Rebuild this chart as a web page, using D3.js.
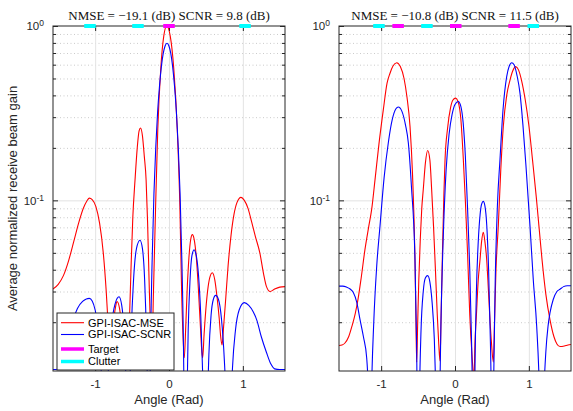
<!DOCTYPE html>
<html>
<head>
<meta charset="utf-8">
<script src="https://cdn.jsdelivr.net/npm/d3@7"></script>
<style>
  body { margin: 0; background: #fff; }
  svg { display: block; }
</style>
</head>
<body>
<svg id="chart" width="573" height="411"></svg>
<script>
// ---- tick values and labels ----
const angleTicks = [-1, 0, 1];
const gainMajorTicks = [0.1, 1];
const gainMinorTicks = [0.02, 0.03, 0.04, 0.05, 0.06, 0.07, 0.08, 0.09, 0.2, 0.3, 0.4, 0.5, 0.6, 0.7, 0.8, 0.9];
const gainMin = 0.0105;
const titles = ["NMSE = \u221219.1 (dB) SCNR = 9.8 (dB)", "NMSE = \u221210.8 (dB) SCNR = 11.5 (dB)"];
const legendLabels = ["GPI-ISAC-MSE", "GPI-ISAC-SCNR", "Target", "Clutter"];
const xLabel = "Angle (Rad)";
const yLabel = "Average normalized receive beam gain";

// ---- target / clutter directions (rad) ----
const targetsA = [0];
const clutterA = [-1.07, -0.42, 1.03];
const targetsB = [-0.77, 0.01, 0.80];
const clutterB = [-1.03, -0.38, 1.06];
const markerHalfWidth = 0.078;

// ---- beam gain, scenario A: [angle (rad), gain] ----
const mseA = [
  [-1.571, 0.0310], [-1.500, 0.0330], [-1.430, 0.0370], [-1.360, 0.0450], [-1.290, 0.0580],
  [-1.220, 0.0750], [-1.160, 0.0900], [-1.110, 0.0995], [-1.079, 0.1030], [-1.040, 0.1010],
  [-0.990, 0.0920], [-0.940, 0.0740], [-0.890, 0.0500], [-0.850, 0.0300], [-0.820, 0.0180],
  [-0.800, 0.0130], [-0.785, 0.0120], [-0.770, 0.0150], [-0.745, 0.0210], [-0.720, 0.0250],
  [-0.704, 0.0263], [-0.670, 0.0240], [-0.640, 0.0190], [-0.610, 0.0150], [-0.580, 0.0128],
  [-0.560, 0.0125], [-0.540, 0.0180], [-0.515, 0.0400], [-0.490, 0.0800], [-0.460, 0.1310],
  [-0.430, 0.2000], [-0.405, 0.2500], [-0.385, 0.2600], [-0.360, 0.2350], [-0.335, 0.1800],
  [-0.310, 0.1310], [-0.290, 0.0750], [-0.270, 0.0350], [-0.250, 0.0180], [-0.232, 0.0127],
  [-0.212, 0.0280], [-0.182, 0.0900], [-0.152, 0.2550], [-0.111, 0.5730], [-0.071, 0.8750],
  [-0.031, 1.0000], [0.017, 0.8750], [0.064, 0.5730], [0.112, 0.2550], [0.148, 0.0900],
  [0.171, 0.0300], [0.207, 0.0125],
  [0.225, 0.0180], [0.245, 0.0300], [0.270, 0.0470], [0.295, 0.0600], [0.316, 0.0636],
  [0.340, 0.0600], [0.370, 0.0470], [0.400, 0.0300], [0.425, 0.0190], [0.445, 0.0135],
  [0.456, 0.0125],
  [0.475, 0.0170], [0.500, 0.0240], [0.530, 0.0320], [0.560, 0.0370], [0.586, 0.0384],
  [0.620, 0.0350], [0.650, 0.0280], [0.680, 0.0210], [0.700, 0.0165], [0.718, 0.0148],
  [0.740, 0.0190], [0.770, 0.0280], [0.800, 0.0420], [0.840, 0.0630], [0.880, 0.0830],
  [0.920, 0.0970], [0.975, 0.1040], [1.020, 0.1000], [1.070, 0.0900], [1.120, 0.0750],
  [1.170, 0.0620], [1.230, 0.0500], [1.280, 0.0380], [1.320, 0.0320], [1.370, 0.0300],
  [1.430, 0.0310], [1.500, 0.0318], [1.571, 0.0320]
];
const scnrA = [
  [-1.571, 0.0107], [-1.530, 0.0107], [-1.490, 0.0110], [-1.450, 0.0120], [-1.410, 0.0134],
  [-1.360, 0.0160], [-1.300, 0.0205], [-1.240, 0.0240], [-1.170, 0.0263], [-1.120, 0.0272],
  [-1.079, 0.0274], [-1.040, 0.0265], [-1.000, 0.0235], [-0.960, 0.0185], [-0.930, 0.0130],
  [-0.900, 0.0070], [-0.880, 0.0035], [-0.867, 0.0015],
  [-0.850, 0.0045], [-0.820, 0.0110], [-0.780, 0.0190], [-0.730, 0.0255], [-0.677, 0.0280],
  [-0.640, 0.0250], [-0.610, 0.0180], [-0.585, 0.0100], [-0.565, 0.0045], [-0.551, 0.0015],
  [-0.535, 0.0060], [-0.510, 0.0180], [-0.480, 0.0350], [-0.440, 0.0530], [-0.393, 0.0590],
  [-0.360, 0.0530], [-0.330, 0.0350], [-0.305, 0.0160], [-0.290, 0.0070], [-0.280, 0.0015],
  [-0.267, 0.0021], [-0.255, 0.0095], [-0.229, 0.0438], [-0.204, 0.1090], [-0.179, 0.2030],
  [-0.154, 0.3220], [-0.128, 0.4560], [-0.103, 0.5870], [-0.078, 0.6960], [-0.052, 0.7700],
  [-0.027, 0.7960], [-0.002, 0.7700], [0.024, 0.6960], [0.049, 0.5870], [0.074, 0.4560],
  [0.100, 0.3220], [0.125, 0.2030], [0.150, 0.1090], [0.175, 0.0438], [0.201, 0.0095],
  [0.213, 0.0021], [0.226, 0.0015],
  [0.240, 0.0060], [0.260, 0.0180], [0.285, 0.0350], [0.310, 0.0480], [0.339, 0.0520],
  [0.370, 0.0480], [0.400, 0.0370], [0.430, 0.0220], [0.460, 0.0090], [0.480, 0.0040],
  [0.497, 0.0015],
  [0.515, 0.0050], [0.540, 0.0130], [0.570, 0.0220], [0.600, 0.0270], [0.632, 0.0285],
  [0.670, 0.0270], [0.710, 0.0210], [0.750, 0.0120], [0.780, 0.0060], [0.812, 0.0015],
  [0.830, 0.0050], [0.860, 0.0110], [0.900, 0.0180], [0.950, 0.0235], [1.020, 0.0259],
  [1.080, 0.0250], [1.140, 0.0230], [1.190, 0.0205], [1.250, 0.0165], [1.320, 0.0134],
  [1.380, 0.0115], [1.430, 0.0108], [1.500, 0.0107], [1.571, 0.0107]
];

// ---- beam gain, scenario B: [angle (rad), gain] ----
const mseB = [
  [-1.571, 0.0147], [-1.530, 0.0148], [-1.490, 0.0152], [-1.440, 0.0165], [-1.395, 0.0190],
  [-1.350, 0.0225], [-1.313, 0.0271], [-1.270, 0.0360], [-1.220, 0.0520], [-1.170, 0.0700],
  [-1.128, 0.0890], [-1.080, 0.1350], [-1.030, 0.2100], [-0.971, 0.3300], [-0.920, 0.4700],
  [-0.880, 0.5360], [-0.840, 0.5900], [-0.789, 0.6160], [-0.740, 0.5850], [-0.690, 0.5000],
  [-0.650, 0.3900], [-0.609, 0.2650], [-0.575, 0.1400], [-0.542, 0.0458], [-0.530, 0.0220],
  [-0.519, 0.0118],
  [-0.505, 0.0200], [-0.490, 0.0350], [-0.470, 0.0600], [-0.450, 0.0900], [-0.430, 0.1150],
  [-0.400, 0.1650], [-0.370, 0.1930], [-0.340, 0.1700], [-0.316, 0.1150], [-0.290, 0.0700],
  [-0.265, 0.0400], [-0.240, 0.0220], [-0.220, 0.0150], [-0.203, 0.0120],
  [-0.190, 0.0200], [-0.170, 0.0500], [-0.150, 0.1100], [-0.135, 0.1710], [-0.100, 0.2600],
  [-0.060, 0.3400], [-0.030, 0.3750], [0.009, 0.3860], [0.040, 0.3700], [0.080, 0.2900],
  [0.113, 0.1710], [0.140, 0.1000], [0.170, 0.0500], [0.200, 0.0220], [0.230, 0.0130],
  [0.257, 0.0095],
  [0.270, 0.0150], [0.290, 0.0220], [0.315, 0.0350], [0.339, 0.0458], [0.360, 0.0580],
  [0.383, 0.0656], [0.405, 0.0580], [0.429, 0.0458], [0.450, 0.0320], [0.470, 0.0220],
  [0.495, 0.0150], [0.519, 0.0118],
  [0.535, 0.0200], [0.555, 0.0400], [0.586, 0.0709], [0.620, 0.1500], [0.654, 0.2650],
  [0.700, 0.4000], [0.745, 0.4900], [0.780, 0.5500], [0.822, 0.5850], [0.860, 0.5600],
  [0.900, 0.4900], [0.950, 0.3800], [1.002, 0.2650], [1.050, 0.1700], [1.100, 0.1050],
  [1.137, 0.0709], [1.180, 0.0450], [1.230, 0.0290], [1.286, 0.0207], [1.340, 0.0165],
  [1.380, 0.0150], [1.422, 0.0145], [1.480, 0.0146], [1.530, 0.0148], [1.571, 0.0149]
];
const scnrB = [
  [-1.571, 0.0322], [-1.520, 0.0322], [-1.470, 0.0318], [-1.420, 0.0310], [-1.377, 0.0296],
  [-1.330, 0.0260], [-1.286, 0.0207], [-1.240, 0.0165], [-1.196, 0.0125], [-1.170, 0.0070],
  [-1.151, 0.0020],
  [-1.130, 0.0080], [-1.100, 0.0200], [-1.060, 0.0420], [-1.016, 0.0709], [-0.960, 0.1350],
  [-0.903, 0.2140], [-0.850, 0.2900], [-0.800, 0.3350], [-0.768, 0.3430], [-0.720, 0.3250],
  [-0.670, 0.2700], [-0.632, 0.2140], [-0.590, 0.1200], [-0.542, 0.0458], [-0.520, 0.0150],
  [-0.497, 0.0020],
  [-0.480, 0.0080], [-0.460, 0.0180], [-0.430, 0.0300], [-0.400, 0.0360], [-0.370, 0.0370],
  [-0.340, 0.0340], [-0.310, 0.0260], [-0.280, 0.0160], [-0.255, 0.0070], [-0.226, 0.0020],
  [-0.210, 0.0060], [-0.190, 0.0200], [-0.160, 0.0600], [-0.120, 0.1500], [-0.080, 0.2400],
  [-0.040, 0.3100], [0.000, 0.3550], [0.045, 0.3690], [0.080, 0.3450], [0.110, 0.2800],
  [0.140, 0.1800], [0.170, 0.0900], [0.200, 0.0400], [0.225, 0.0150], [0.245, 0.0050],
  [0.257, 0.0020],
  [0.270, 0.0100], [0.290, 0.0300], [0.315, 0.0580], [0.340, 0.0830], [0.360, 0.0950],
  [0.383, 0.0987], [0.405, 0.0930], [0.430, 0.0720], [0.455, 0.0400], [0.480, 0.0150],
  [0.497, 0.0060], [0.510, 0.0020],
  [0.525, 0.0100], [0.545, 0.0350], [0.575, 0.0950], [0.609, 0.1710], [0.650, 0.3300],
  [0.700, 0.5130], [0.735, 0.5900], [0.768, 0.6160], [0.800, 0.6000], [0.840, 0.5200],
  [0.880, 0.4120], [0.920, 0.2700], [0.960, 0.1600], [1.016, 0.0709], [1.060, 0.0350],
  [1.106, 0.0190], [1.140, 0.0090], [1.174, 0.0020],
  [1.200, 0.0070], [1.230, 0.0135], [1.260, 0.0190], [1.286, 0.0226], [1.330, 0.0270],
  [1.380, 0.0300], [1.422, 0.0309], [1.470, 0.0320], [1.520, 0.0324], [1.571, 0.0324]
];

// ---- layout ----
const plotTop = 26, plotBottom = 371;
const axisColor = "#262626";
const sansFont = "'Liberation Sans', Arial, Helvetica, sans-serif";
const serifFont = "'Liberation Serif', 'Times New Roman', serif";

const panels = [
  { x0: 53, x1: 285, title: titles[0], mse: mseA, scnr: scnrA, targets: targetsA, clutter: clutterA, legend: true },
  { x0: 339, x1: 571, title: titles[1], mse: mseB, scnr: scnrB, targets: targetsB, clutter: clutterB, legend: false }
];

const svg = d3.select("#chart");
svg.append("rect").attr("width", 573).attr("height", 411).attr("fill", "#fff");
const defs = svg.append("defs");

panels.forEach((p, i) => {
  const x = d3.scaleLinear().domain([-Math.PI / 2, Math.PI / 2]).range([p.x0, p.x1]);
  const y = d3.scaleLog().domain([gainMin, 1]).range([plotBottom, plotTop]);
  const w = p.x1 - p.x0, h = plotBottom - plotTop;

  const clipId = "plot-clip-" + i;
  defs.append("clipPath").attr("id", clipId)
    .append("rect").attr("x", p.x0).attr("y", plotTop).attr("width", w).attr("height", h);

  const g = svg.append("g");

  // minor y grid (dotted)
  g.append("g")
    .attr("transform", `translate(${p.x0},0)`)
    .call(d3.axisLeft(y).tickValues(gainMinorTicks).tickSize(-w).tickFormat(""))
    .call(s => s.select(".domain").remove())
    .call(s => s.selectAll(".tick line")
      .attr("stroke", "#b5b5b5").attr("stroke-width", 0.7).attr("stroke-dasharray", "1,2.5"));

  // major grid (solid)
  g.append("g")
    .attr("transform", `translate(${p.x0},0)`)
    .call(d3.axisLeft(y).tickValues([0.1]).tickSize(-w).tickFormat(""))
    .call(s => s.select(".domain").remove())
    .call(s => s.selectAll(".tick line").attr("stroke", "#e3e3e3").attr("stroke-width", 1));
  g.append("g")
    .attr("transform", `translate(0,${plotBottom})`)
    .call(d3.axisBottom(x).tickValues(angleTicks).tickSize(-h).tickFormat(""))
    .call(s => s.select(".domain").remove())
    .call(s => s.selectAll(".tick line").attr("stroke", "#e3e3e3").attr("stroke-width", 1));

  // beam gain curves
  const line = d3.line()
    .x(d => x(d[0]))
    .y(d => y(d[1]))
    .curve(d3.curveMonotoneX);
  const curves = g.append("g").attr("clip-path", `url(#${clipId})`);
  curves.append("path").datum(p.mse)
    .attr("d", line).attr("fill", "none").attr("stroke", "#ff0000").attr("stroke-width", 1.1);
  curves.append("path").datum(p.scnr)
    .attr("d", line).attr("fill", "none").attr("stroke", "#0000ff").attr("stroke-width", 1.1);

  // axes box with inward ticks
  g.append("rect").attr("x", p.x0).attr("y", plotTop).attr("width", w).attr("height", h)
    .attr("fill", "none").attr("stroke", axisColor).attr("stroke-width", 1);

  const styleAxis = s => {
    s.select(".domain").remove();
    s.selectAll(".tick line").attr("stroke", axisColor);
    s.selectAll(".tick text").attr("fill", axisColor).attr("font-family", sansFont).attr("font-size", 11.5);
  };

  // bottom axis with labels
  g.append("g").attr("transform", `translate(0,${plotBottom})`)
    .call(d3.axisBottom(x).tickValues(angleTicks).tickSizeInner(-5).tickSizeOuter(0).tickPadding(9)
      .tickFormat(d => d < 0 ? "-" + Math.abs(d) : String(d)))
    .call(styleAxis);
  // top axis ticks
  g.append("g").attr("transform", `translate(0,${plotTop})`)
    .call(d3.axisTop(x).tickValues(angleTicks).tickSizeInner(-5).tickSizeOuter(0).tickFormat(""))
    .call(styleAxis);

  // left axis with power-of-ten labels
  const leftAxis = g.append("g").attr("transform", `translate(${p.x0},0)`)
    .call(d3.axisLeft(y).tickValues(gainMajorTicks).tickSizeInner(-5).tickSizeOuter(0).tickPadding(9)
      .tickFormat(d => String(Math.round(Math.log10(d)))))
    .call(styleAxis);
  leftAxis.selectAll(".tick text").each(function () {
    const t = d3.select(this);
    const exp = t.text();
    t.text(null);
    t.append("tspan").text("10");
    t.append("tspan").attr("dy", "-0.45em").attr("font-size", 8.5).text(exp);
  });
  g.append("g").attr("transform", `translate(${p.x0},0)`)
    .call(d3.axisLeft(y).tickValues(gainMinorTicks).tickSizeInner(-3).tickSizeOuter(0).tickFormat(""))
    .call(styleAxis);
  // right axis ticks
  g.append("g").attr("transform", `translate(${p.x1},0)`)
    .call(d3.axisRight(y).tickValues(gainMajorTicks).tickSizeInner(-5).tickSizeOuter(0).tickFormat(""))
    .call(styleAxis);
  g.append("g").attr("transform", `translate(${p.x1},0)`)
    .call(d3.axisRight(y).tickValues(gainMinorTicks).tickSizeInner(-3).tickSizeOuter(0).tickFormat(""))
    .call(styleAxis);

  // target and clutter direction markers along the top edge
  const markers = [
    ...p.clutter.map(a => ({ a, color: "#00ffff" })),
    ...p.targets.map(a => ({ a, color: "#ff00ff" }))
  ];
  g.append("g").selectAll("line").data(markers).join("line")
    .attr("x1", d => x(d.a - markerHalfWidth)).attr("x2", d => x(d.a + markerHalfWidth))
    .attr("y1", y(1)).attr("y2", y(1))
    .attr("stroke", d => d.color).attr("stroke-width", 4);

  // title
  svg.append("text")
    .attr("x", (p.x0 + p.x1) / 2).attr("y", 20)
    .attr("text-anchor", "middle")
    .attr("font-family", serifFont).attr("font-size", 13).attr("font-weight", "normal")
    .attr("fill", "#111")
    .text(p.title);

  // x-axis label
  svg.append("text")
    .attr("x", (p.x0 + p.x1) / 2).attr("y", 404)
    .attr("text-anchor", "middle")
    .attr("font-family", sansFont).attr("font-size", 13)
    .attr("fill", axisColor)
    .text(xLabel);

  // legend
  if (p.legend) {
    const lx = 57, ly = 313, lw = 117, lh = 57;
    const lg = svg.append("g");
    lg.append("rect").attr("x", lx).attr("y", ly).attr("width", lw).attr("height", lh)
      .attr("fill", "#fff").attr("stroke", axisColor).attr("stroke-width", 1);
    const items = [
      { label: legendLabels[0], color: "#ff0000", width: 1.1, cy: 322.7 },
      { label: legendLabels[1], color: "#0000ff", width: 1.1, cy: 334.5 },
      { label: legendLabels[2], color: "#ff00ff", width: 3.5, cy: 349 },
      { label: legendLabels[3], color: "#00ffff", width: 3.5, cy: 361.5 }
    ];
    const rows = lg.selectAll("g.item").data(items).join("g").attr("class", "item");
    rows.append("line")
      .attr("x1", 61).attr("x2", 84)
      .attr("y1", d => d.cy).attr("y2", d => d.cy)
      .attr("stroke", d => d.color).attr("stroke-width", d => d.width);
    rows.append("text")
      .attr("x", 88).attr("y", d => d.cy).attr("dy", "0.35em")
      .attr("font-family", sansFont).attr("font-size", 11)
      .attr("fill", "#000")
      .text(d => d.label);
  }
});

// shared y-axis label
svg.append("text")
  .attr("transform", `translate(17,${(plotTop + plotBottom) / 2}) rotate(-90)`)
  .attr("text-anchor", "middle")
  .attr("font-family", sansFont).attr("font-size", 13)
  .attr("fill", axisColor)
  .text(yLabel);
</script>
</body>
</html>
